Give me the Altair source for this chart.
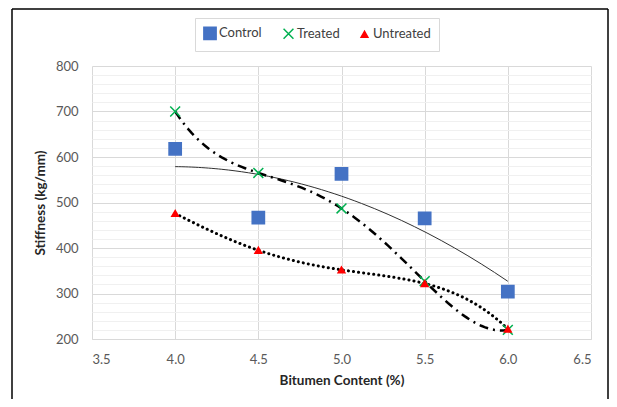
import altair as alt
import pandas as pd

bitumen = [4.0, 4.5, 5.0, 5.5, 6.0]
control = [618, 467, 563, 465, 304]
treated = [700, 565, 487, 327, 220]
untreated = [476, 395, 352, 322, 222]
series_names = ["Control", "Treated", "Untreated"]
series_colors = ["#4472C4", "#00B050", "#FF0000"]
series_shapes = ["square", "M-1,-1L1,1M-1,1L1,-1", "triangle-up"]
x_ticks = [3.5, 4.0, 4.5, 5.0, 5.5, 6.0, 6.5]
y_ticks = list(range(200, 801, 20))

rows = []
for name, vals in zip(series_names, [control, treated, untreated]):
    for b, v in zip(bitumen, vals):
        rows.append({"Bitumen": b, "Stiffness": v, "Series": name})
df = pd.DataFrame(rows)

FONT = "Lato"
x_scale = alt.Scale(domain=[3.5, 6.5], nice=False, zero=False)
y_scale = alt.Scale(domain=[200, 800], nice=False, zero=False)

x_axis = alt.Axis(values=x_ticks, format=".1f", title="Bitumen Content (%)",
                  grid=True, gridColor="#d9d9d9", domainColor="#d9d9d9",
                  ticks=False, labelPadding=14, titlePadding=7,
                  labelFont=FONT, labelFontSize=13, labelColor="#595959",
                  titleFont=FONT, titleFontSize=13.5, titleFontWeight="bold",
                  titleColor="#262626")
y_axis = alt.Axis(values=y_ticks, title="Stiffness (kg/mm)",
                  labelExpr="datum.value % 100 === 0 ? datum.label : ''",
                  grid=True,
                  gridColor={"condition": {"test": "datum.value % 100 === 0", "value": "#d9d9d9"},
                             "value": "#f0f0f0"},
                  domain=False, ticks=False, labelPadding=14, titlePadding=8,
                  labelFont=FONT, labelFontSize=13, labelColor="#595959",
                  titleFont=FONT, titleFontSize=13.5, titleFontWeight="bold",
                  titleColor="#262626")

X = alt.X("Bitumen:Q", scale=x_scale, axis=x_axis)
Y = alt.Y("Stiffness:Q", scale=y_scale, axis=y_axis)

def trend(name, order, color, **mk):
    return (alt.Chart(df)
            .transform_filter(alt.datum.Series == name)
            .transform_regression("Bitumen", "Stiffness", method="poly", order=order)
            .mark_line(color=color, **mk)
            .encode(x=X, y=Y))

t_control = trend("Control", 2, "#303030", strokeWidth=1)
t_treated = trend("Treated", 4, "black", strokeWidth=2.5, strokeDash=[9, 5, 2, 5])
t_untreated = trend("Untreated", 4, "black", strokeWidth=3, strokeDash=[0.1, 5], strokeCap="round")

color_scale = alt.Scale(domain=series_names, range=series_colors)
points = alt.Chart(df).mark_point(filled=True, opacity=1, strokeWidth=1.5).encode(
    x=X, y=Y,
    color=alt.Color("Series:N", scale=color_scale, title=None,
                    legend=alt.Legend(orient="none", legendX=103, legendY=-48,
                                      direction="horizontal", title=None,
                                      fillColor="white", strokeColor="#d9d9d9",
                                      padding=8, labelFont=FONT, labelFontSize=13,
                                      labelColor="#404040", symbolSize=55,
                                      symbolStrokeWidth=1.5, columnPadding=18,
                                      labelOffset=2)),
    stroke=alt.Stroke("Series:N", scale=color_scale, title=None),
    shape=alt.Shape("Series:N", scale=alt.Scale(domain=series_names, range=series_shapes), title=None),
    size=alt.Size("Series:N", scale=alt.Scale(domain=series_names, range=[150, 45, 80]), legend=None),
)

frame_data = alt.Data(values=[{"a": 1}])
frame_top = alt.Chart(frame_data).mark_rule(color="black", strokeWidth=1.5).encode(
    x=alt.value(-80), x2=alt.value(516), y=alt.value(-57))
frame_left = alt.Chart(frame_data).mark_rule(color="black", strokeWidth=1.5).encode(
    x=alt.value(-80), y=alt.value(-57), y2=alt.value(400))
frame_right = alt.Chart(frame_data).mark_rule(color="black", strokeWidth=1.5).encode(
    x=alt.value(516), y=alt.value(-57), y2=alt.value(400))

chart = alt.layer(t_control, t_treated, t_untreated, points, frame_top, frame_left, frame_right).properties(
    width=499, height=273,
    autosize=alt.AutoSizeParams(type="none"),
    padding={"left": 84, "top": 58, "right": 18, "bottom": 60},
    background="white",
).configure_view(stroke=None)

chart.save("out.html", embed_options={"renderer": "svg", "actions": False})
